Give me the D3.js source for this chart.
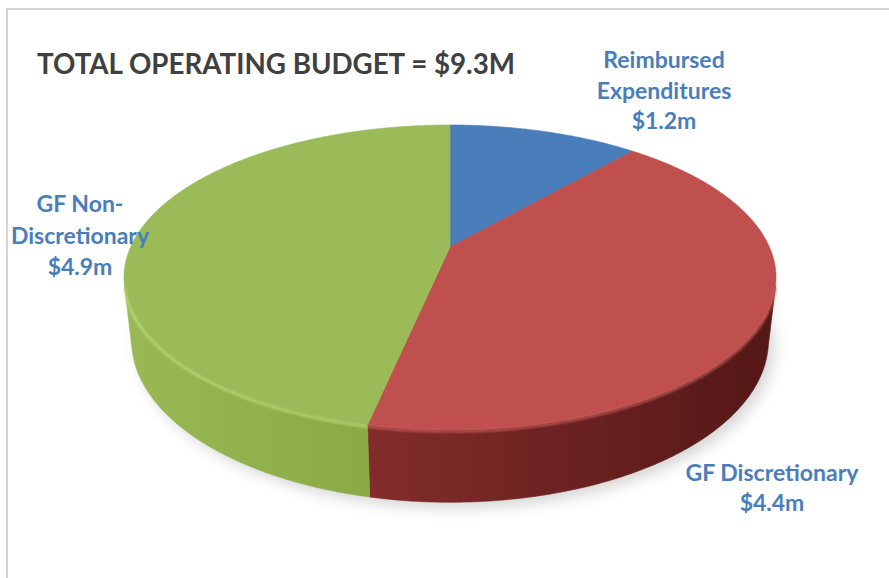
<!DOCTYPE html>
<html>
<head>
<meta charset="utf-8">
<script src="https://cdn.jsdelivr.net/npm/d3@7/dist/d3.min.js"></script>
<style>
  html, body { margin: 0; padding: 0; background: #ffffff; }
  svg { display: block; }
  text { font-family: Lato, "Open Sans", "DejaVu Sans", sans-serif; font-weight: 700; }
</style>
</head>
<body>
<svg id="chart" width="889" height="578"></svg>
<script>
// Operating budget split (millions of dollars)
const categories = ["Reimbursed Expenditures", "GF Discretionary", "GF Non-Discretionary"];
const values = [1.2, 4.4, 4.9];
const labelNames = [["Reimbursed", "Expenditures"], ["GF Discretionary"], ["GF Non-", "Discretionary"]];
const titleText = "TOTAL OPERATING BUDGET = $9.3M";

// Palette for top faces and side walls
const topColors = ["#4a7ebb", "#c0504d", "#9bbb59"];
const wallColorsA = ["#3b6aa1", "#822d2b", "#9ab955"];
const wallColorsB = ["#2e5482", "#531716", "#89aa45"];
const rimColors = ["#6f9bd0", "#cf605d", "#c2df77"];

const svg = d3.select("#chart");
const W = 889, H = 578;

// Perspective camera for a tilted disc
const cam = {
  cx: 450, cy: 247,
  s: 0.4584, k: 0.8887,
  D: 4.444, F: 1419.5,
  h: 0.2244
};
function project(phi, r, y) {
  const X = r * Math.sin(phi), Z = -r * Math.cos(phi), Y = y;
  const d = cam.D - Y * cam.s - Z * cam.k;
  return [cam.cx + cam.F * X / d, cam.cy + cam.F * (Z * cam.s - Y * cam.k) / d];
}
function sampleArc(a0, a1, y, n) {
  const pts = [];
  const steps = Math.max(2, Math.ceil(Math.abs(a1 - a0) / (Math.PI / 180) * (n || 1)));
  for (let i = 0; i <= steps; i++) {
    const a = a0 + (a1 - a0) * i / steps;
    pts.push(project(a, 1, y));
  }
  return pts;
}

const pie = d3.pie().sort(null).value(d => d)(values);
const line = d3.line();

const defs = svg.append("defs");
defs.append("filter").attr("id", "shadowBlur")
  .attr("x", "-20%").attr("y", "-20%").attr("width", "140%").attr("height", "140%")
  .append("feGaussianBlur").attr("stdDeviation", 7);
defs.append("filter").attr("id", "rimBlur")
  .append("feGaussianBlur").attr("stdDeviation", 0.9);

// Side wall gradients, running left to right across the disc
pie.forEach((p, i) => {
  const g = defs.append("linearGradient").attr("id", "wall" + i)
    .attr("gradientUnits", "userSpaceOnUse")
    .attr("x1", i === 2 ? 124 : 370).attr("y1", 0)
    .attr("x2", i === 2 ? 370 : 776).attr("y2", 0);
  g.append("stop").attr("offset", 0).attr("stop-color", wallColorsA[i]);
  g.append("stop").attr("offset", 1).attr("stop-color", wallColorsB[i]);
});

// Frame
svg.append("path")
  .attr("d", `M7,${H} L7,9 L${W},9`)
  .attr("fill", "none").attr("stroke", "#d4d4d4").attr("stroke-width", 2);

// Soft shadow below the disc
const shadowPts = sampleArc(Math.PI * 0.5, Math.PI * 1.5, -cam.h, 1)
  .map(([x, y]) => [x + 6, y + 6]);
const shadowTop = sampleArc(Math.PI * 1.5, Math.PI * 2.5, -cam.h, 1).map(([x, y]) => [x + 6, y - 20]);
svg.append("path")
  .attr("d", line(shadowPts.concat(shadowTop)) + "Z")
  .attr("fill", "#7a7a7a").attr("opacity", 0.3)
  .attr("filter", "url(#shadowBlur)");

// Visible part of the outer wall
const lim = Math.acos(-1 / (cam.D * cam.k));
const visA = lim, visB = 2 * Math.PI - lim;

const walls = svg.append("g");
pie.forEach((p, i) => {
  const a0 = Math.max(p.startAngle, visA), a1 = Math.min(p.endAngle, visB);
  if (a1 <= a0) return;
  const topEdge = sampleArc(a0, a1, 0, 2);
  const botEdge = sampleArc(a1, a0, -cam.h, 2);
  walls.append("path").attr("d", line(topEdge.concat(botEdge)) + "Z")
    .attr("fill", `url(#wall${i})`)
    .attr("stroke", `url(#wall${i})`).attr("stroke-width", 0.6);
});

// Top faces
const tops = svg.append("g");
pie.forEach((p, i) => {
  const pts = [project(0, 0, 0)].concat(sampleArc(p.startAngle, p.endAngle, 0, 2));
  tops.append("path").attr("d", line(pts) + "Z").attr("fill", topColors[i])
    .attr("stroke", topColors[i]).attr("stroke-width", 0.6);
});

// Light catching the front rim
pie.forEach((p, i) => {
  const a0 = Math.max(p.startAngle, visA), a1 = Math.min(p.endAngle, visB);
  if (a1 <= a0) return;
  svg.append("path")
    .attr("d", line(sampleArc(a0, a1, 0, 2).map(([x, y]) => [x, y + 1.5])))
    .attr("fill", "none").attr("stroke", rimColors[i]).attr("stroke-width", 2.2)
    .attr("opacity", 0.85).attr("filter", "url(#rimBlur)");
});

// Title
svg.append("text")
  .attr("x", 37).attr("y", 74)
  .attr("textLength", 478).attr("lengthAdjust", "spacingAndGlyphs")
  .attr("font-size", 29).attr("fill", "#404040")
  .text(titleText);

// Slice labels
const labelLayout = [
  { x: 664, y: 68, dy: 30.5 },
  { x: 772, y: 481, dy: 30 },
  { x: 80, y: 212, dy: 31.5 }
];
pie.forEach((p, i) => {
  const lines = labelNames[i].concat([`$${values[i].toFixed(1)}m`]);
  const L = labelLayout[i];
  const t = svg.append("text")
    .attr("text-anchor", "middle")
    .attr("font-size", 23).attr("fill", "#4a7ebb");
  lines.forEach((s, j) => {
    t.append("tspan").attr("x", L.x).attr("y", L.y + j * L.dy).text(s);
  });
});
</script>
</body>
</html>
